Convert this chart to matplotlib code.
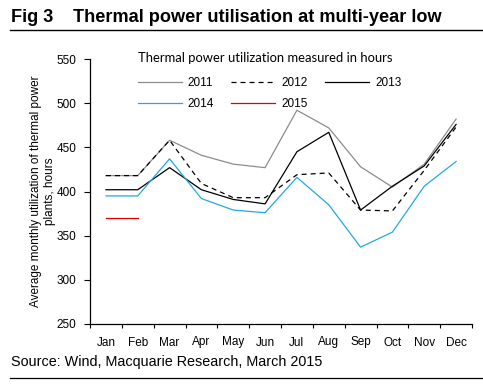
import numpy as np
import matplotlib
matplotlib.use("Agg")
from matplotlib import pyplot as plt
from matplotlib.lines import Line2D

plt.rcParams['font.family'] = ['Liberation Sans', 'DejaVu Sans']
plt.rcParams['lines.scale_dashes'] = False

# data (hours)
months = ['Jan', 'Feb', 'Mar', 'Apr', 'May', 'Jun', 'Jul', 'Aug', 'Sep', 'Oct', 'Nov', 'Dec']
y2011 = [418, 418, 458, 441, 431, 427, 492, 472, 428, 405, 431, 482]
y2012 = [418, 418, 458, 409, 393, 393, 419, 421, 379, 378, 424, 473]
y2013 = [402, 402, 427, 402, 391, 386, 445, 467, 379, 406, 429, 476]
y2014 = [395, 395, 437, 392, 379, 376, 416, 385, 337, 354, 406, 434]
y2015 = [370, 370]

yticks = [250, 300, 350, 400, 450, 500, 550]

fig = plt.figure(figsize=(4.83, 3.88), dpi=100)
ax = fig.add_axes([90/483, 1-324/388, 382/483, 265/388])

x = np.arange(len(months))
l11, = ax.plot(x, y2011, color='#8c8c8c', lw=0.9, label='2011')
l12, = ax.plot(x, y2012, color='black', lw=0.9, dashes=(3.6, 2.9), label='2012')
l13, = ax.plot(x, y2013, color='black', lw=0.9, label='2013')
l14, = ax.plot(x, y2014, color='#22a8e6', lw=0.9, label='2014')
l15, = ax.plot(x[:len(y2015)], y2015, color='#e00000', lw=0.9, label='2015')

ax.set_xlim(-0.5, 11.5)
ax.set_ylim(250, 550)
ax.set_yticks(yticks)
ax.set_xticks(x)
ax.set_xticklabels(months)
ax.set_xticks(np.arange(-0.5, 12, 1), minor=True)
ax.tick_params(axis='x', which='major', length=0, pad=9, labelsize=8.5)
ax.tick_params(axis='x', which='minor', length=3, width=0.8, direction='out')
ax.tick_params(axis='y', length=4, width=0.8, direction='out', pad=6, labelsize=8.5)
for s in ['top', 'right']:
    ax.spines[s].set_visible(False)
for s in ['left', 'bottom']:
    ax.spines[s].set_linewidth(0.9)

ax.set_ylabel('Average monthly utilization of thermal power\nplants, hours', fontsize=8.5,
              linespacing=1.3, labelpad=0)

# legend filled row by row
leg = ax.legend([l11, l14, l12, l15, l13], ['2011', '2014', '2012', '2015', '2013'],
                ncol=3, loc='upper left', bbox_to_anchor=(0.097, 1.065),
                frameon=False, fontsize=8.5, handlelength=3.73, handletextpad=0.48,
                columnspacing=1.5, labelspacing=0.8,
                title='Thermal power utilization measured in hours',
                title_fontproperties={'family': 'Lato', 'size': 9.4})
leg._legend_box.align = 'left'
leg._legend_box.sep = 9

# header and footer
fig.text(11/483, 1-22/388, 'Fig 3', fontsize=13.1, fontweight='bold', va='baseline')
fig.text(73/483, 1-22/388, 'Thermal power utilisation at multi-year low', fontsize=13.1,
         fontweight='bold', va='baseline')
fig.add_artist(Line2D([10/483, 1], [1-29.5/388, 1-29.5/388], color='black', lw=1.0))
fig.text(11/483, 1-362/388, 'Source: Wind, Macquarie Research, March 2015', fontsize=10.4,
         va='center')
fig.add_artist(Line2D([10/483, 1], [1-377.5/388, 1-377.5/388], color='black', lw=0.9))

fig.savefig('out.png', dpi=100)
